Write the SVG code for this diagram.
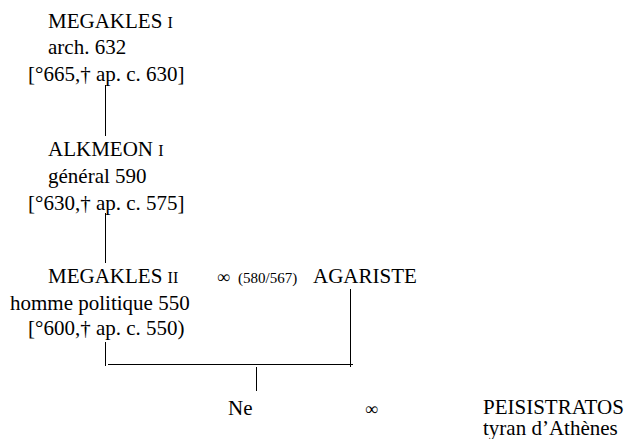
<svg xmlns="http://www.w3.org/2000/svg" width="627" height="439" viewBox="0 0 627 439">
<style>
text{font-family:"Liberation Serif","Times New Roman",serif;font-size:21px;fill:#000}
.sc{font-size:16px}
.sm{font-size:15px}
.inf{font-size:18px}
.ln{stroke:#000;stroke-width:1;fill:none}
</style>
<rect width="627" height="439" fill="#fff"/>
<g id="megakles1">
<text x="48" y="28">MEGAKLES <tspan class="sc">I</tspan></text>
<text x="48" y="54">arch. 632</text>
<text x="28" y="81">[°665,† ap. c. 630]</text>
</g>
<g id="alkmeon1">
<text x="48" y="156">ALKMEON <tspan class="sc">I</tspan></text>
<text x="48" y="183">général 590</text>
<text x="28" y="210">[°630,† ap. c. 575]</text>
</g>
<g id="megakles2">
<text x="48" y="283">MEGAKLES <tspan class="sc">II</tspan></text>
<text x="10" y="310">homme politique 550</text>
<text x="28" y="335">[°600,† ap. c. 550)</text>
</g>
<g id="marriage1">
<text x="217" y="283"><tspan class="inf">∞</tspan><tspan class="sm" x="238">(580/567)</tspan></text>
</g>
<g id="agariste">
<text x="313" y="283">AGARISTE</text>
</g>
<g id="ne">
<text x="228" y="415">Ne</text>
</g>
<g id="marriage2">
<text x="365" y="415" class="inf">∞</text>
</g>
<g id="peisistratos">
<text x="483" y="414">PEISISTRATOS</text>
<text x="483" y="435">tyran d’Athènes</text>
</g>
<g id="connectors">
<line class="ln" x1="105.5" y1="85" x2="105.5" y2="136"/>
<line class="ln" x1="105.5" y1="213" x2="105.5" y2="263"/>
<line class="ln" x1="105.5" y1="342" x2="105.5" y2="366"/>
<line class="ln" x1="350.5" y1="289" x2="350.5" y2="367"/>
<line class="ln" x1="108" y1="364.5" x2="353" y2="364.5"/>
<line class="ln" x1="256.5" y1="367" x2="256.5" y2="391"/>
</g>
</svg>
